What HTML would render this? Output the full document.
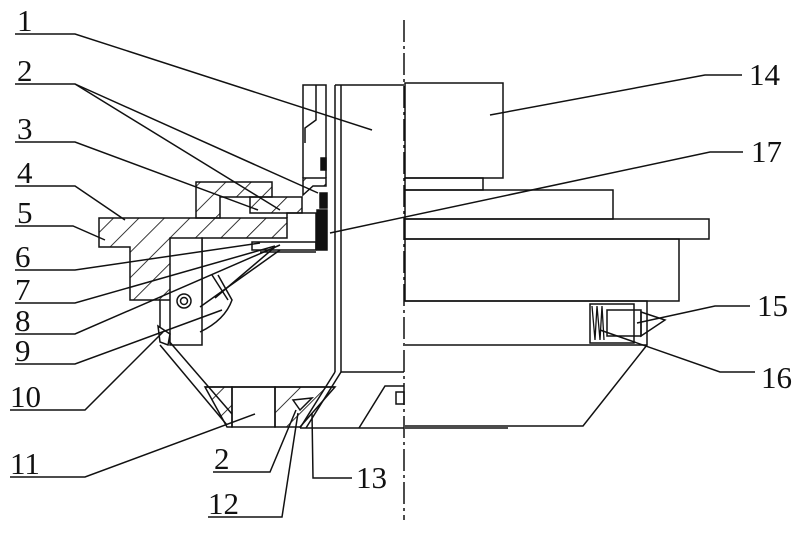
<!DOCTYPE html>
<html><head><meta charset="utf-8"><style>
body{margin:0;background:#fff}
svg{display:block}
text{font-family:"Liberation Serif","Noto Serif CJK SC",serif;font-size:31px;fill:#111}
</style></head><body>
<svg width="804" height="535" viewBox="0 0 804 535" xmlns="http://www.w3.org/2000/svg">
<defs>
<pattern id="h" width="18" height="18" patternUnits="userSpaceOnUse" patternTransform="rotate(45)">
<line x1="0" y1="0" x2="0" y2="18" stroke="#111" stroke-width="1.7"/>
</pattern>
</defs>
<g fill="none" stroke="#111" stroke-width="1.5">
<line x1="404" y1="20" x2="404" y2="520" stroke-dasharray="22,4,3,4"/>
<rect x="405" y="83" width="98" height="95"/>
<rect x="405" y="178" width="78" height="12"/>
<rect x="405" y="190" width="208" height="29"/>
<rect x="405" y="219" width="304" height="20"/>
<rect x="405" y="239" width="274" height="62"/>
<polyline points="405,301 647,301 647,345 405,345"/>
<polyline points="647,345 583,426 405,426"/>
<line x1="405" y1="428" x2="508" y2="428"/>
<rect x="590" y="304" width="44" height="39"/>
<rect x="607" y="310" width="34" height="26"/>
<polygon points="641,312 665,320 641,336"/>
<polyline points="592,306 595,340 597,306 600,340 602,306 604,340" stroke-width="1.3"/>
<line x1="335" y1="85" x2="404" y2="85"/>
<line x1="335" y1="85" x2="335" y2="372"/>
<line x1="341" y1="85" x2="341" y2="372"/>
<line x1="341" y1="372" x2="404" y2="372"/>
<line x1="335" y1="372" x2="300" y2="428"/>
<line x1="341" y1="372" x2="306" y2="428"/>
<line x1="300" y1="428" x2="404" y2="428"/>
<polyline points="404,386 385,386 359,428"/>
<rect x="396" y="392" width="8" height="12"/>
<polyline points="303,178 303,85 326,85 326,178"/>
<polyline points="316,85 316,120 305,128 305,143"/>
<rect x="321" y="158" width="5" height="12" fill="#111"/>
<polygon points="303,178 326,178 326,186 313,186 303,195" fill="url(#h)"/>
<rect x="320" y="193" width="7" height="15" fill="#111"/>
<rect x="317" y="210" width="10" height="40" fill="#111"/>
<path d="M196,182 H272 V197 H220 V218 H196 Z" fill="url(#h)"/>
<path d="M250,197 H302 V213 H250 Z" fill="url(#h)"/>
<path d="M99,218 H287 V238 H202 V300 H130 V247 H99 Z" fill="url(#h)"/>
<rect x="170" y="238" width="32" height="107" fill="#fff"/>
<polyline points="287,218 287,213 316,213 316,250"/>
<rect x="252" y="242" width="64" height="8"/>
<line x1="260" y1="252" x2="316" y2="252"/>
<line x1="275" y1="247" x2="215" y2="298"/>
<line x1="280" y1="250" x2="200" y2="307"/>
<circle cx="184" cy="301" r="7"/><circle cx="184" cy="301" r="3.5"/>
<path d="M218,275 L232,300 Q225,320 200,332"/>
<line x1="212" y1="275" x2="228" y2="300"/>
<line x1="160" y1="345" x2="227" y2="425"/>
<line x1="168" y1="340" x2="232" y2="414"/>
<polygon points="158,326 170,334 168,345 160,342" fill="#fff"/>
<line x1="160" y1="300" x2="160" y2="328"/>
<path d="M205,387 H232 V427 H227 Z" fill="url(#h)"/>
<rect x="232" y="387" width="43" height="40"/>
<path d="M275,387 H335 L300,427 H275 Z" fill="url(#h)"/>
<path d="M293,400 L312,398 L300,410 Z" fill="#fff"/>
<line x1="205" y1="387" x2="335" y2="387"/>
<polyline points="15,34 75,34 372,130"/>
<polyline points="15,84 75,84 280,210"/>
<line x1="75" y1="84" x2="318" y2="193"/>
<polyline points="15,142 75,142 258,210"/>
<polyline points="15,186 75,186 125,220"/>
<polyline points="15,226 73,226 105,240"/>
<polyline points="15,270 75,270 260,243"/>
<polyline points="15,303 75,303 275,246"/>
<polyline points="15,334 75,334 280,245"/>
<polyline points="15,364 75,364 222,310"/>
<polyline points="10,410 85,410 163,332"/>
<polyline points="10,477 85,477 255,414"/>
<polyline points="213,472 270,472 296,410"/>
<polyline points="208,517 282,517 298,413"/>
<polyline points="312,413 313,478 352,478"/>
<polyline points="742,75 705,75 490,115"/>
<polyline points="743,152 710,152 330,233"/>
<polyline points="750,306 715,306 637,323"/>
<polyline points="755,372 720,372 600,330"/>
</g>
<g>
<text x="17" y="31">1</text>
<text x="17" y="81">2</text>
<text x="17" y="139">3</text>
<text x="17" y="183">4</text>
<text x="17" y="223">5</text>
<text x="15" y="267">6</text>
<text x="15" y="300">7</text>
<text x="15" y="331">8</text>
<text x="15" y="361">9</text>
<text x="10" y="407">10</text>
<text x="10" y="474">11</text>
<text x="214" y="469">2</text>
<text x="208" y="514">12</text>
<text x="356" y="488">13</text>
<text x="749" y="85">14</text>
<text x="751" y="162">17</text>
<text x="757" y="316">15</text>
<text x="761" y="388">16</text>
</g>
</svg>
</body></html>
